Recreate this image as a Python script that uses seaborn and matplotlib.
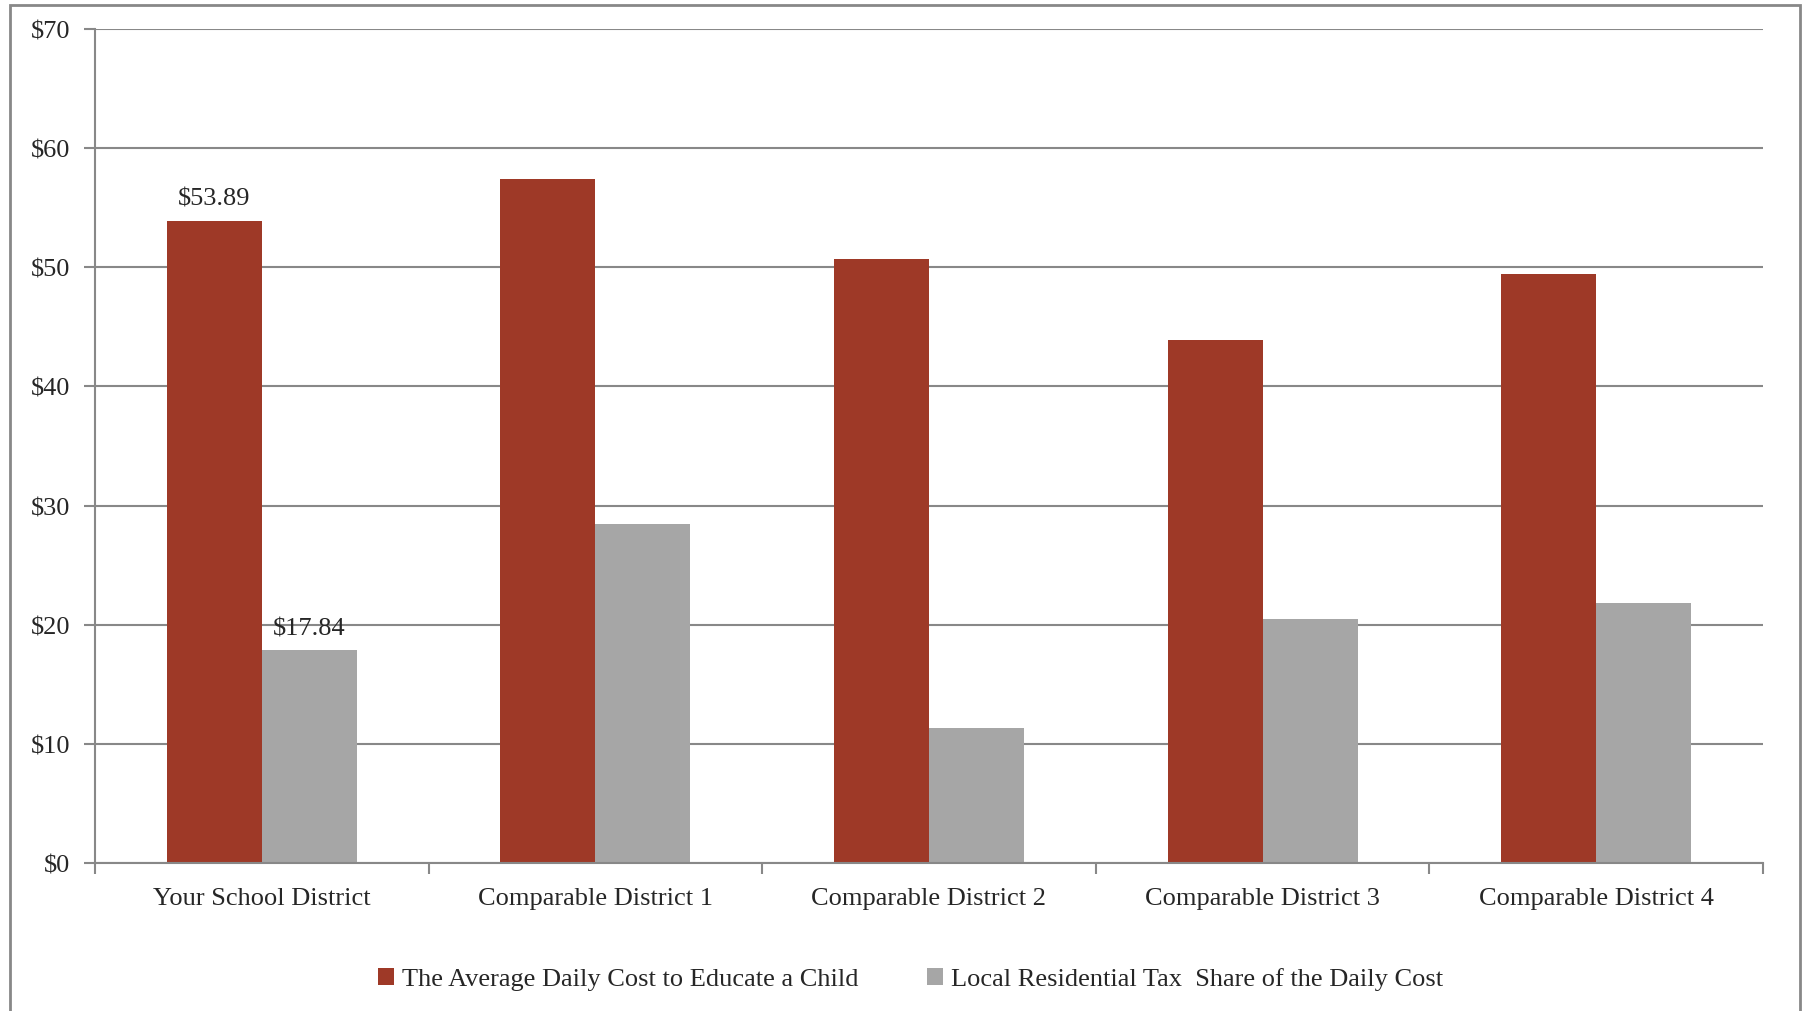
import pandas as pd
import matplotlib.pyplot as plt
import seaborn as sns
from matplotlib.ticker import FuncFormatter, MultipleLocator
from matplotlib.patches import Rectangle

# Chart data
districts = ['Your School District', 'Comparable District 1', 'Comparable District 2',
             'Comparable District 3', 'Comparable District 4']
avg_cost = [53.89, 57.45, 50.70, 43.93, 49.45]
tax_share = [17.84, 28.48, 11.30, 20.47, 21.82]
series_names = ['The Average Daily Cost to Educate a Child',
                'Local Residential Tax  Share of the Daily Cost']
colors = ['#9E3927', '#A6A6A6']

df = pd.DataFrame({
    'District': districts * 2,
    'Cost': avg_cost + tax_share,
    'Series': [series_names[0]] * len(districts) + [series_names[1]] * len(districts),
})

sns.set_theme(style='white')
plt.rcParams['font.family'] = ['Liberation Serif', 'DejaVu Serif']

gray = '#888888'
fs = 19
fig = plt.figure(figsize=(18.03, 10.12), dpi=100)
ax = fig.add_axes([95 / 1803, 1 - 864 / 1012, (1763 - 95) / 1803, (864 - 30) / 1012])

sns.barplot(data=df, x='District', y='Cost', hue='Series', palette=colors,
            width=0.57, saturation=1, linewidth=0, ax=ax)

# y axis
ax.set_ylim(0, 70)
ax.yaxis.set_major_locator(MultipleLocator(10))
ax.yaxis.set_major_formatter(FuncFormatter(lambda v, p: f'\\${v:.0f}'))
ax.yaxis.grid(True, color=gray, linewidth=1.5)
ax.set_axisbelow(True)

# x axis: labels at centres, tick marks at category boundaries
ax.set_xlim(-0.5, len(districts) - 0.5)
ax.set_xticks([i - 0.5 for i in range(len(districts) + 1)], minor=True)
ax.tick_params(axis='x', which='major', length=0, pad=17, labelsize=fs)
ax.tick_params(axis='x', which='minor', bottom=True, length=8, width=1.5, color=gray,
               direction='out')
ax.tick_params(axis='y', which='major', length=8, width=1.5, color=gray, pad=10,
               labelsize=fs, left=True)
ax.set_xlabel('')
ax.set_ylabel('')

for side in ['top', 'right']:
    ax.spines[side].set_visible(False)
for side in ['left', 'bottom']:
    ax.spines[side].set_color(gray)
    ax.spines[side].set_linewidth(1.5)

# value labels on the first district only
ax.bar_label(ax.containers[0], labels=['\\$53.89'] + [''] * 4, padding=8, fontsize=fs)
ax.bar_label(ax.containers[1], labels=['\\$17.84'] + [''] * 4, padding=8, fontsize=fs)

# legend below the chart
handles, labels = ax.get_legend_handles_labels()
ax.get_legend().remove()
fig.legend(handles, labels, loc='center', bbox_to_anchor=(0.505, 1 - 980 / 1012),
           ncol=2, frameon=False, fontsize=fs, handlelength=0.6, handleheight=0.6,
           handletextpad=0.3, columnspacing=2.6)

# outer chart frame
fig.add_artist(Rectangle((10 / 1803, -0.1), (1800 - 10) / 1803, 1.1 - 6 / 1012,
                         transform=fig.transFigure, fill=False, edgecolor=gray,
                         linewidth=2, clip_on=False))

fig.savefig('out.png', dpi=100)
